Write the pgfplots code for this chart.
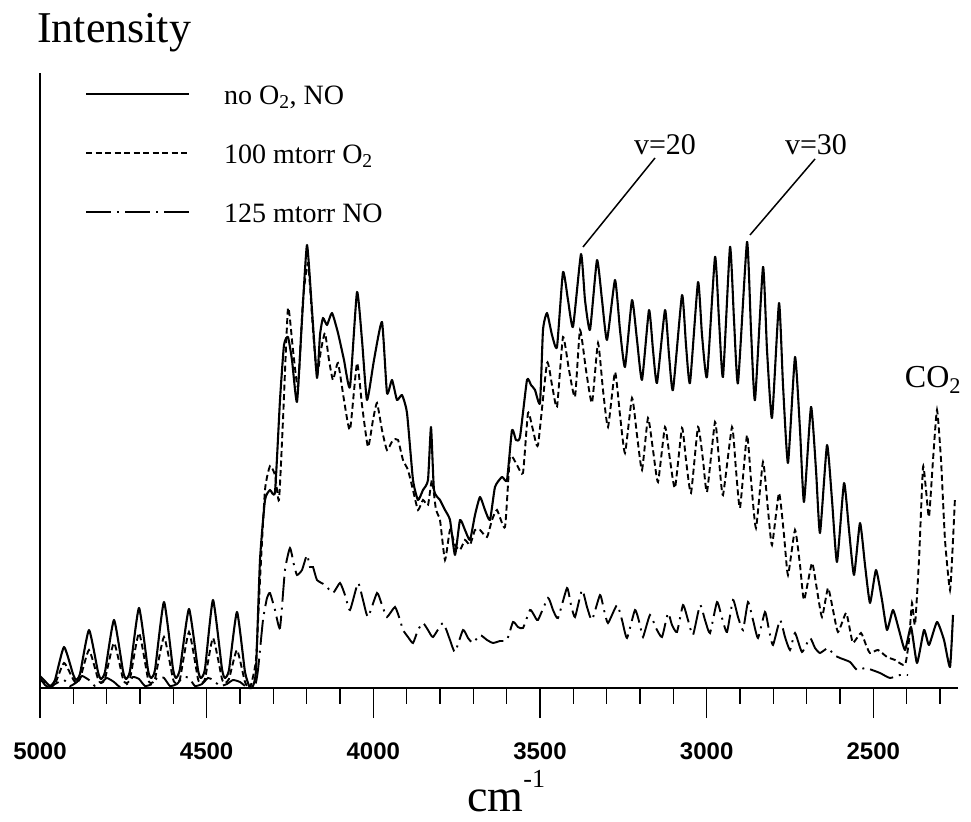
\documentclass[border=0pt]{standalone}
\usepackage{fontspec}
\setmainfont{Liberation Serif}
\newfontfamily\ticksans{Liberation Sans}
\usepackage{pgfplots}
\pgfplotsset{compat=1.18}
\begin{document}
\begin{tikzpicture}[x=1bp,y=1bp]
\useasboundingbox (0,0) rectangle (971,822);
\begin{axis}[
  at={(40bp,134bp)}, anchor=south west,
  scale only axis, width=918bp, height=615bp,
  xmin=2246, xmax=5000, ymin=0, ymax=615,
  x dir=reverse,
  axis x line=bottom, axis y line=none,
  axis line style={-, line width=2.2bp},
  xtick={2500,3000,3500,4000,4500,5000},
  minor xtick={2300,2400,2600,2700,2800,2900,3100,3200,3300,3400,3600,3700,3800,3900,4100,4200,4300,4400,4600,4700,4800,4900},
  tick align=outside,
  major tick length=30bp, minor tick length=16bp,
  every tick/.style={black, line width=1.2bp},
  ytick=\empty,
  xticklabel style={font=\ticksans\bfseries\fontsize{24bp}{28bp}\selectfont, yshift=-21bp},
  /pgf/number format/assume math mode=true,
  /pgf/number format/1000 sep={},
  clip=false,
  legend cell align=left,
  legend style={draw=none, fill=none, at={(axis description cs:0.049,0.982)}, anchor=north west,
    inner sep=0pt, outer sep=0pt, row sep=31bp, column sep=34bp,
    font=\fontsize{28bp}{30bp}\selectfont,
    nodes={inner sep=0pt, text height=20bp, text depth=8bp}},
  legend image code/.code={\draw[#1] (0bp,4bp) -- (103bp,4bp);},
]
\addplot[black, line width=2.1bp, line join=round, smooth, tension=0.3] coordinates {
(5000,12)(4988,8)(4970,2)(4955,8)(4928,41)(4901,14)(4892,8)(4880,14)(4853,58)(4826,16)(4817,9)(4805,16)
(4778,68)(4751,17)(4742,9)(4730,17)(4703,80)(4676,18)(4667,10)(4655,18)(4628,86)(4601,19)(4592,10)(4580,19)
(4553,79)(4526,18)(4517,10)(4505,19)(4481,88)(4454,19)(4445,10)(4433,18)(4409,76)(4385,16)(4370,0)(4361,2)
(4352,18)(4340,128)(4325,188)(4310,198)(4295,196)(4280,288)(4268,343)(4256,351)(4244,328)(4229,286)
(4214,368)(4199,443)(4184,378)(4169,310)(4160,353)(4151,370)(4139,363)(4124,375)(4106,355)(4088,328)
(4070,301)(4049,396)(4034,348)(4019,288)(3998,328)(3974,366)(3959,295)(3944,308)(3929,288)(3914,293)
(3899,275)(3881,208)(3866,188)(3851,198)(3836,208)(3827,261)(3818,198)(3800,188)(3785,178)(3770,168)
(3755,133)(3740,168)(3725,158)(3710,148)(3695,173)(3680,191)(3665,178)(3650,168)(3635,201)(3614,211)
(3599,208)(3584,258)(3572,248)(3560,251)(3539,308)(3527,303)(3515,298)(3500,285)(3491,358)(3479,375)
(3464,353)(3449,341)(3431,416)(3416,388)(3401,361)(3377,434)(3365,388)(3350,358)(3329,428)(3314,388)
(3299,348)(3275,408)(3260,358)(3245,321)(3224,388)(3209,348)(3194,308)(3173,378)(3161,338)(3149,305)
(3125,378)(3113,333)(3101,298)(3074,393)(3062,343)(3050,305)(3026,406)(3014,353)(2999,311)(2975,431)
(2963,368)(2951,311)(2930,441)(2918,368)(2906,305)(2879,446)(2867,358)(2855,288)(2831,421)(2819,338)
(2804,270)(2783,385)(2771,303)(2756,225)(2735,331)(2720,258)(2708,186)(2687,281)(2672,218)(2660,155)
(2639,243)(2624,188)(2609,126)(2588,205)(2573,158)(2558,113)(2540,165)(2525,123)(2510,85)(2492,118)
(2474,88)(2459,58)(2441,78)(2423,58)(2405,38)(2387,61)(2369,25)(2348,58)(2333,43)(2309,66)(2288,48)
(2270,21)(2261,73)
};
\addlegendentry{no O\textsubscript{2}, NO}
\addplot[black, line width=1.9bp, dash pattern=on 6bp off 3.5bp, smooth, tension=0.3] coordinates {
(5000,8)(4970,2)(4955,4)(4928,25)(4901,9)(4892,5)(4880,9)(4853,38)(4826,9)(4817,5)(4805,9)(4778,45)
(4751,9)(4742,5)(4730,9)(4703,55)(4676,9)(4667,5)(4655,9)(4628,51)(4601,9)(4592,5)(4580,9)(4553,56)
(4526,9)(4517,5)(4505,9)(4481,50)(4454,9)(4445,5)(4433,9)(4409,38)(4385,6)(4370,0)
(4352,28)(4340,108)(4325,198)(4310,222)(4295,213)(4283,188)(4271,268)(4256,380)(4241,338)(4226,301)
(4211,388)(4196,425)(4181,358)(4169,313)(4157,338)(4145,355)(4133,328)(4121,308)(4106,325)(4088,288)
(4070,258)(4049,325)(4034,283)(4016,241)(4001,268)(3989,285)(3974,258)(3959,238)(3941,248)(3926,248)
(3911,228)(3896,218)(3881,198)(3866,178)(3851,188)(3836,183)(3824,208)(3812,178)(3800,168)(3785,128)
(3770,158)(3755,143)(3740,138)(3725,148)(3710,143)(3695,158)(3680,158)(3659,151)(3644,168)(3629,178)
(3605,161)(3590,231)(3569,223)(3551,215)(3536,275)(3521,258)(3506,243)(3479,325)(3464,303)(3449,281)
(3431,351)(3413,318)(3395,291)(3380,358)(3362,318)(3344,285)(3326,345)(3311,298)(3296,261)(3275,316)
(3260,273)(3245,235)(3224,290)(3209,253)(3194,218)(3176,270)(3161,238)(3146,206)(3125,261)(3110,228)
(3095,200)(3074,260)(3062,228)(3047,195)(3026,261)(3011,228)(2999,196)(2975,266)(2963,228)(2951,193)
(2924,261)(2912,218)(2900,180)(2879,253)(2867,208)(2852,160)(2831,226)(2816,178)(2804,143)(2783,195)
(2768,153)(2756,113)(2735,158)(2720,123)(2708,88)(2684,125)(2669,98)(2654,71)(2636,100)(2621,78)
(2606,56)(2582,75)(2570,58)(2561,45)(2537,55)(2522,43)(2510,35)(2486,38)(2459,31)(2435,28)(2405,23)
(2393,48)(2384,85)(2375,63)(2363,128)(2351,221)(2342,198)(2333,171)(2321,228)(2309,278)(2297,228)
(2285,148)(2270,98)(2261,148)(2255,191)
};
\addlegendentry{100 mtorr O\textsubscript{2}}
\addplot[black, line width=1.9bp, dash pattern=on 25bp off 6bp on 2bp off 6bp, smooth, tension=0.3] coordinates {
(5000,10)(4985,3)(4970,0)(4955,4)(4928,8)(4910,2)(4889,6)(4874,12)(4853,8)(4835,2)(4814,6)(4799,10)
(4778,6)(4760,1)(4739,4)(4721,11)(4703,9)(4685,2)(4664,4)(4646,11)(4628,10)(4610,2)(4589,4)(4571,11)
(4553,10)(4535,2)(4514,4)(4496,10)(4481,8)(4460,2)(4439,4)(4421,8)(4400,6)(4376,0)(4355,2)
(4346,18)(4331,68)(4319,90)(4310,95)(4295,78)(4280,60)(4265,118)(4250,140)(4238,123)(4229,113)
(4214,118)(4199,133)(4190,121)(4181,121)(4169,108)(4145,103)(4121,95)(4100,105)(4085,93)(4070,78)
(4046,105)(4031,88)(4016,71)(3989,95)(3974,83)(3959,71)(3935,81)(3920,68)(3911,58)(3896,51)(3881,45)
(3866,58)(3851,65)(3836,58)(3821,51)(3791,65)(3770,48)(3755,36)(3731,58)(3716,50)(3701,45)(3680,53)
(3659,48)(3641,45)(3620,47)(3599,48)(3581,66)(3566,61)(3551,60)(3530,78)(3518,73)(3506,68)(3476,90)
(3461,78)(3446,70)(3419,100)(3407,83)(3395,71)(3374,98)(3359,81)(3344,68)(3320,93)(3308,78)(3296,65)
(3269,83)(3254,68)(3239,50)(3215,78)(3200,63)(3191,51)(3170,73)(3152,60)(3134,51)(3116,75)(3104,63)
(3089,56)(3071,83)(3056,68)(3041,53)(3020,83)(3005,68)(2990,55)(2969,86)(2954,70)(2939,56)(2921,88)
(2906,71)(2891,58)(2876,86)(2861,68)(2846,50)(2825,76)(2813,58)(2801,43)(2780,68)(2765,51)(2750,38)
(2735,55)(2714,36)(2690,50)(2675,40)(2660,35)(2636,40)(2618,33)(2600,30)(2570,26)(2549,18)(2525,20)
(2504,18)(2480,15)(2450,10)(2420,13)(2396,13)
};
\addlegendentry{125 mtorr NO}
\draw[line width=1.5bp] (axis cs:3371,441) -- (axis cs:3155,530);
\draw[line width=1.5bp] (axis cs:2870,453) -- (axis cs:2675,529);
\node[font=\fontsize{30bp}{32bp}\selectfont, inner sep=0pt] at (axis cs:3125,543) {v=20};
\node[font=\fontsize{30bp}{32bp}\selectfont, inner sep=0pt] at (axis cs:2672,543) {v=30};
\node[font=\fontsize{32bp}{34bp}\selectfont, inner sep=0pt] at (axis cs:2321,308) {CO\textsubscript{2}};
\end{axis}
\draw[line width=1.2bp] (40,134) -- (40,749);
\node[anchor=base west, inner sep=0pt, font=\fontsize{44bp}{48bp}\selectfont] at (37,779) {Intensity};
\node[anchor=base west, inner sep=0pt, font=\fontsize{46bp}{50bp}\selectfont] at (467,10) {cm{\fontsize{26bp}{28bp}\selectfont\raisebox{24bp}{-1}}};
\end{tikzpicture}
\end{document}
